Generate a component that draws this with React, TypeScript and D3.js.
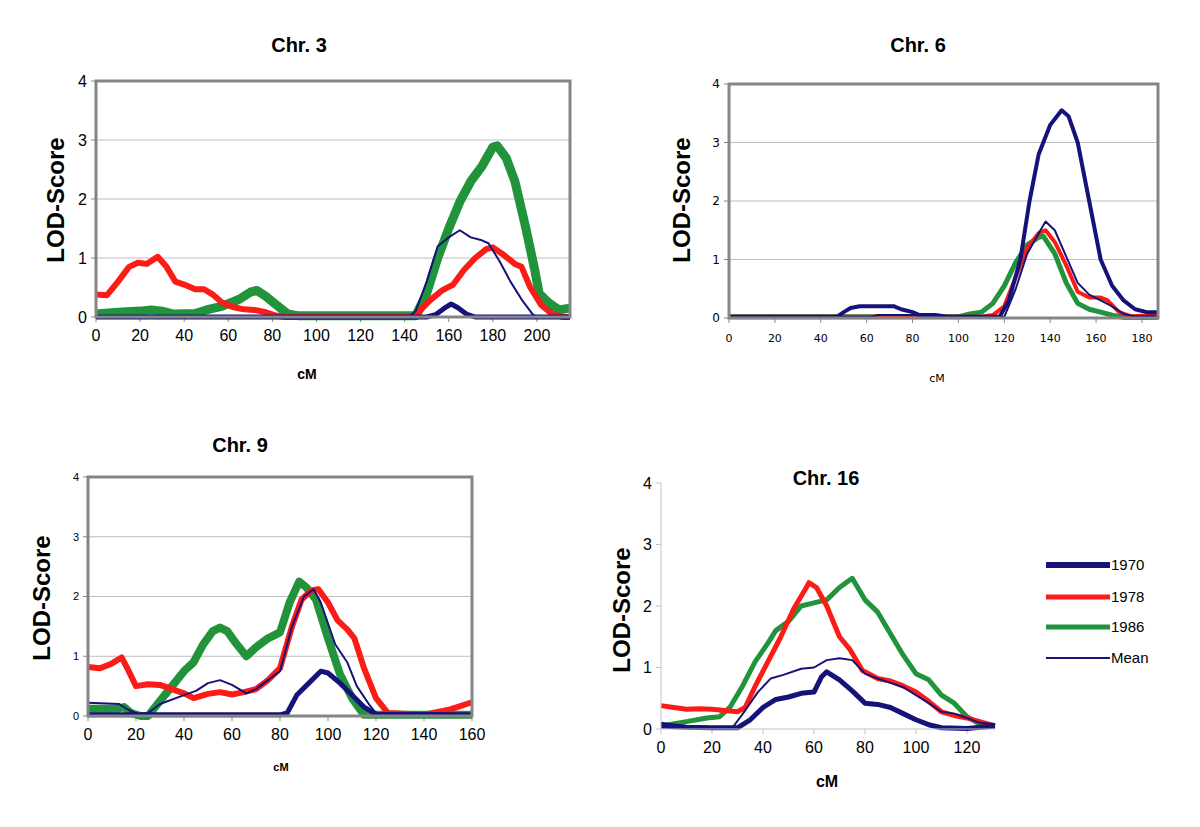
import React from "react";
import * as d3 from "d3";

type P = [number, number];

// ---------- Data (cM, LOD) ----------
const chr3_1970: P[] = [[0,0],[150,0],[154,0.04],[158,0.15],[161,0.22],[164,0.16],[168,0.05],[172,0],[215,0]];
const chr3_1978: P[] = [[0,0.38],[5,0.37],[10,0.6],[15,0.85],[19,0.92],[23,0.9],[28,1.02],[32,0.85],[36,0.6],[40,0.55],[45,0.47],[49,0.47],[53,0.38],[57,0.25],[62,0.17],[67,0.13],[72,0.12],[77,0.08],[82,0.02],[86,0],[145,0],[148,0.15],[152,0.3],[157,0.45],[162,0.55],[167,0.8],[172,1.0],[177,1.15],[180,1.18],[185,1.05],[190,0.9],[193,0.85],[197,0.5],[202,0.2],[207,0.05],[212,0],[215,0]];
const chr3_1986: P[] = [[0,0.05],[10,0.08],[20,0.1],[25,0.12],[30,0.1],[35,0.05],[45,0.06],[50,0.12],[57,0.18],[65,0.3],[70,0.42],[73,0.45],[77,0.35],[82,0.2],[87,0.05],[92,0.02],[145,0.02],[150,0.4],[155,1.0],[160,1.5],[165,1.95],[170,2.3],[175,2.55],[180,2.88],[182,2.9],[186,2.7],[190,2.3],[195,1.5],[199,0.8],[201,0.4],[205,0.25],[210,0.12],[215,0.15]];
const chr3_mean: P[] = [[0,0],[142,0],[145,0.1],[150,0.6],[155,1.2],[160,1.35],[165,1.47],[170,1.35],[175,1.3],[178,1.25],[183,0.95],[188,0.6],[193,0.3],[198,0.05],[200,0],[215,0]];

const chr6_1970: P[] = [[0,0.02],[47,0.02],[50,0.1],[53,0.17],[57,0.2],[72,0.2],[75,0.15],[80,0.1],[83,0.05],[90,0.05],[95,0.02],[118,0.02],[122,0.3],[127,1.0],[131,2.0],[135,2.8],[140,3.3],[145,3.55],[148,3.45],[152,3.0],[157,2.0],[162,1.0],[167,0.55],[172,0.3],[177,0.15],[182,0.1],[187,0.1]];
const chr6_1978: P[] = [[0,0.02],[110,0.02],[115,0.05],[120,0.2],[125,0.7],[130,1.2],[135,1.45],[138,1.5],[142,1.3],[147,0.9],[152,0.45],[157,0.35],[162,0.35],[165,0.3],[170,0.1],[175,0.03],[187,0.05]];
const chr6_1986: P[] = [[0,0.02],[100,0.02],[105,0.07],[110,0.1],[115,0.25],[120,0.55],[125,0.95],[130,1.25],[135,1.38],[137,1.4],[142,1.1],[147,0.6],[152,0.25],[157,0.15],[162,0.1],[167,0.05],[172,0.01],[187,0.01]];
const chr6_mean: P[] = [[0,0.02],[62,0.02],[65,0.05],[90,0.05],[95,0.02],[120,0.02],[125,0.5],[130,1.1],[135,1.45],[138,1.65],[142,1.5],[147,1.05],[152,0.6],[157,0.4],[162,0.3],[167,0.2],[172,0.07],[177,0.03],[187,0.03]];

const chr9_1970: P[] = [[0,0.02],[80,0.02],[83,0.05],[87,0.35],[92,0.55],[97,0.75],[100,0.72],[105,0.55],[110,0.35],[115,0.15],[120,0.03],[160,0.02]];
const chr9_1978: P[] = [[0,0.82],[5,0.8],[10,0.88],[14,0.98],[17,0.75],[20,0.5],[25,0.53],[30,0.52],[35,0.45],[40,0.38],[44,0.3],[50,0.37],[55,0.4],[60,0.36],[65,0.4],[70,0.45],[75,0.6],[80,0.8],[85,1.5],[89,1.95],[93,2.1],[96,2.12],[100,1.9],[104,1.6],[108,1.45],[111,1.3],[115,0.8],[120,0.3],[125,0.05],[140,0.02],[150,0.1],[160,0.23]];
const chr9_1986: P[] = [[0,0.12],[12,0.12],[15,0.15],[18,0.05],[22,0],[25,0],[30,0.25],[35,0.5],[40,0.75],[44,0.9],[48,1.2],[52,1.42],[55,1.48],[58,1.42],[62,1.2],[66,1.0],[70,1.15],[75,1.3],[80,1.4],[84,1.9],[88,2.25],[91,2.15],[95,1.95],[100,1.3],[105,0.7],[110,0.3],[115,0.02],[160,0.02]];
const chr9_mean: P[] = [[0,0.22],[13,0.2],[17,0.1],[21,0.03],[25,0.05],[30,0.2],[40,0.35],[45,0.42],[50,0.55],[55,0.6],[60,0.52],[66,0.38],[70,0.45],[75,0.6],[80,0.75],[85,1.5],[90,2.0],[94,2.12],[97,1.9],[103,1.2],[108,0.9],[112,0.5],[117,0.2],[120,0.05],[125,0.02],[160,0.02]];

const chr16_1970: P[] = [[0,0.05],[10,0.03],[20,0.02],[30,0.02],[35,0.15],[40,0.35],[45,0.48],[50,0.52],[55,0.58],[60,0.6],[63,0.85],[65,0.93],[70,0.8],[75,0.62],[80,0.42],[85,0.4],[90,0.35],[95,0.25],[100,0.15],[105,0.07],[110,0.02],[120,0.01],[131,0.05]];
const chr16_1978: P[] = [[0,0.38],[5,0.35],[10,0.32],[15,0.33],[20,0.32],[25,0.3],[30,0.28],[33,0.35],[37,0.7],[42,1.1],[47,1.5],[52,1.95],[57,2.3],[58,2.38],[61,2.3],[65,2.0],[70,1.5],[74,1.3],[79,0.95],[85,0.82],[90,0.78],[95,0.7],[100,0.6],[105,0.45],[110,0.28],[115,0.22],[120,0.18],[125,0.12],[131,0.05]];
const chr16_1986: P[] = [[0,0.05],[10,0.12],[18,0.18],[23,0.2],[27,0.35],[32,0.7],[37,1.1],[42,1.4],[45,1.6],[50,1.75],[55,2.0],[60,2.05],[65,2.1],[70,2.3],[75,2.45],[80,2.1],[85,1.9],[90,1.55],[95,1.2],[100,0.9],[105,0.8],[110,0.55],[115,0.42],[120,0.2],[125,0.08],[131,0.05]];
const chr16_mean: P[] = [[0,0.1],[10,0.05],[20,0.02],[28,0.02],[33,0.3],[38,0.6],[43,0.82],[48,0.88],[55,0.98],[60,1.0],[65,1.12],[70,1.15],[75,1.12],[80,0.9],[85,0.82],[90,0.75],[95,0.68],[100,0.55],[105,0.42],[110,0.28],[115,0.25],[120,0.18],[125,0.1],[131,0.08]];

const seriesNames = ["1970", "1978", "1986", "Mean"];
const yTicks = [0, 1, 2, 3, 4];
const xTicks3 = [0, 20, 40, 60, 80, 100, 120, 140, 160, 180, 200];
const xTicks6 = [0, 20, 40, 60, 80, 100, 120, 140, 160, 180];
const xTicks9 = [0, 20, 40, 60, 80, 100, 120, 140, 160];
const xTicks16 = [0, 20, 40, 60, 80, 100, 120];

const colors: Record<string, string> = { "1970": "#15127a", "1978": "#fb1b17", "1986": "#21933a", Mean: "#15127a" };
const FONT = "'Liberation Sans', Arial, sans-serif";

interface PanelCfg {
  title: string; tx: number; ty: number;
  x0: number; x1: number; y0: number; y1: number; xmax: number;
  xTicks: number[];
  data: Record<string, P[]>;
  widths: Record<string, number>;
  frame: boolean; grid: boolean;
  tickFont: string; yTickSize: number; xTickSize: number;
  cm: { x: number; y: number; size: number; bold: boolean };
  lod: { x: number; y: number };
}

const panels: PanelCfg[] = [
  {
    title: "Chr. 3", tx: 299, ty: 52, x0: 96, x1: 570, y0: 317, y1: 81, xmax: 215, xTicks: xTicks3,
    data: { "1970": chr3_1970, "1978": chr3_1978, "1986": chr3_1986, Mean: chr3_mean },
    widths: { "1970": 5, "1978": 6, "1986": 9, Mean: 2 },
    frame: true, grid: true, tickFont: FONT, yTickSize: 16, xTickSize: 16,
    cm: { x: 307, y: 379, size: 14, bold: true }, lod: { x: 64, y: 200 },
  },
  {
    title: "Chr. 6", tx: 918, ty: 52, x0: 729, x1: 1158, y0: 318, y1: 84, xmax: 187, xTicks: xTicks6,
    data: { "1970": chr6_1970, "1978": chr6_1978, "1986": chr6_1986, Mean: chr6_mean },
    widths: { "1970": 4, "1978": 4, "1986": 5, Mean: 2 },
    frame: true, grid: true, tickFont: "'DejaVu Sans', Verdana, sans-serif", yTickSize: 12, xTickSize: 11,
    cm: { x: 937, y: 382, size: 11, bold: false }, lod: { x: 690, y: 200 },
  },
  {
    title: "Chr. 9", tx: 240, ty: 452, x0: 88, x1: 472, y0: 716, y1: 477, xmax: 160, xTicks: xTicks9,
    data: { "1970": chr9_1970, "1978": chr9_1978, "1986": chr9_1986, Mean: chr9_mean },
    widths: { "1970": 5, "1978": 6, "1986": 8, Mean: 2 },
    frame: true, grid: true, tickFont: FONT, yTickSize: 11, xTickSize: 16,
    cm: { x: 281, y: 771, size: 11, bold: true }, lod: { x: 50, y: 598 },
  },
  {
    title: "Chr. 16", tx: 826, ty: 485, x0: 661, x1: 995, y0: 729, y1: 483, xmax: 131, xTicks: xTicks16,
    data: { "1970": chr16_1970, "1978": chr16_1978, "1986": chr16_1986, Mean: chr16_mean },
    widths: { "1970": 5, "1978": 5, "1986": 5, Mean: 2 },
    frame: false, grid: false, tickFont: FONT, yTickSize: 16, xTickSize: 16,
    cm: { x: 827, y: 787, size: 16, bold: true }, lod: { x: 630, y: 610 },
  },
];

const drawOrder = ["1986", "1978", "1970", "Mean"];

function Panel({ c }: { c: PanelCfg }) {
  const x = d3.scaleLinear().domain([0, c.xmax]).range([c.x0, c.x1]);
  const y = d3.scaleLinear().domain([0, 4]).range([c.y0, c.y1]);
  const line = d3.line<P>().x((d) => x(d[0])).y((d) => y(d[1])).curve(d3.curveLinear);
  const axisColor = c.frame ? "#888" : "#c4c4c4";
  return (
    <g>
      <text x={c.tx} y={c.ty} textAnchor="middle" fontFamily={FONT} fontWeight="bold" fontSize={20}>{c.title}</text>
      <text transform={`translate(${c.lod.x},${c.lod.y}) rotate(-90)`} textAnchor="middle" fontFamily={FONT} fontWeight="bold" fontSize={24}>LOD-Score</text>
      {c.grid && yTicks.filter((t) => t > 0 && t < 4).map((t) => (
        <line key={"g" + t} x1={c.x0} x2={c.x1} y1={y(t)} y2={y(t)} stroke="#bdbdbd" strokeWidth={1} />
      ))}
      {yTicks.map((t) => (
        <g key={"y" + t}>
          <line x1={c.x0 - 5} x2={c.x0} y1={y(t)} y2={y(t)} stroke={axisColor} strokeWidth={1} />
          <text x={c.x0 - 9} y={y(t)} dy="0.35em" textAnchor="end" fontFamily={c.tickFont} fontSize={c.yTickSize}>{t}</text>
        </g>
      ))}
      {c.xTicks.map((t) => (
        <g key={"x" + t}>
          <line x1={x(t)} x2={x(t)} y1={c.y0} y2={c.y0 + 5} stroke={axisColor} strokeWidth={1} />
          <text x={x(t)} y={c.y0 + 24} textAnchor="middle" fontFamily={c.tickFont} fontSize={c.xTickSize}>{t}</text>
        </g>
      ))}
      {drawOrder.map((s) => (
        <path key={s} d={line(c.data[s]) || ""} fill="none" stroke={colors[s]} strokeWidth={c.widths[s]} strokeLinejoin="round" strokeLinecap="butt" />
      ))}
      {c.frame ? (
        <rect x={c.x0} y={c.y1} width={c.x1 - c.x0} height={c.y0 - c.y1} fill="none" stroke="#858585" strokeWidth={3} />
      ) : (
        <g>
          <line x1={c.x0} x2={c.x0} y1={c.y1} y2={c.y0} stroke={axisColor} strokeWidth={1} />
          <line x1={c.x0} x2={c.x1} y1={c.y0} y2={c.y0} stroke={axisColor} strokeWidth={1} />
        </g>
      )}
      <text x={c.cm.x} y={c.cm.y} textAnchor="middle" fontFamily={c.cm.bold ? FONT : c.tickFont} fontWeight={c.cm.bold ? "bold" : "normal"} fontSize={c.cm.size}>cM</text>
    </g>
  );
}

const legendY = [565, 597, 627, 658];
const legendW: Record<string, number> = { "1970": 6, "1978": 5, "1986": 5, Mean: 2 };

export default function App() {
  return (
    <svg width={1200} height={827} style={{ position: "absolute", left: 0, top: 0, background: "#fff" }}>
      <rect width={1200} height={827} fill="#fff" />
      {panels.map((c) => <Panel key={c.title} c={c} />)}
      {seriesNames.map((s, i) => (
        <g key={s}>
          <line x1={1046} x2={1110} y1={legendY[i]} y2={legendY[i]} stroke={colors[s]} strokeWidth={legendW[s]} />
          <text x={1111} y={legendY[i]} dy="0.35em" fontFamily={FONT} fontSize={15}>{s}</text>
        </g>
      ))}
    </svg>
  );
}
